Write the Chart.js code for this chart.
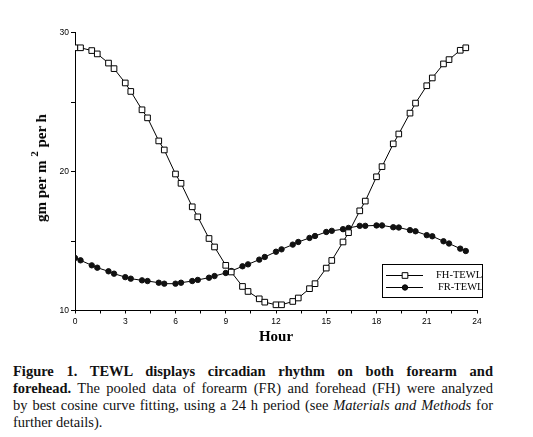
<!DOCTYPE html>
<html>
<head>
<meta charset="utf-8">
<script src="https://cdn.jsdelivr.net/npm/chart.js@4/dist/chart.umd.min.js"></script>
<style>
body { margin: 0; background: #fff; width: 533px; height: 437px; overflow: hidden; position: relative; }
#chart { position: absolute; left: 0; top: 0; }
#ytitle {
	position: absolute; left: 40px; top: 168px;
	transform: translate(-50%, -50%) rotate(-90deg);
	font: bold 15px "Liberation Serif", serif; white-space: nowrap; color: #000;
}
#ytitle sup { font-size: 11px; position: relative; top: -2px; }
#caption {
	position: absolute; left: 13px; top: 363px; width: 480px;
	font: 14.5px/17px "Liberation Serif", serif; color: #111;
}
#caption span.l { display: block; white-space: nowrap; text-align: justify; text-align-last: justify; }
#caption span.last { display: block; white-space: nowrap; }
</style>
</head>
<body>
<canvas id="chart" width="533" height="350"></canvas>
<div id="ytitle">gm per m <sup>2</sup> per h</div>
<div id="caption">
	<span class="l"><b>Figure 1. TEWL displays circadian rhythm on both forearm and</b></span>
	<span class="l"><b>forehead.</b> The pooled data of forearm (FR) and forehead (FH) were analyzed</span>
	<span class="l">by best cosine curve fitting, using a 24 h period (see <i>Materials and Methods</i> for</span>
	<span class="last">further details).</span>
</div>
<script>
// hours of each reading (two per hour)
const hours = [0, 0.33, 1, 1.33, 2, 2.33, 3, 3.33, 4, 4.33, 5, 5.33,
	6, 6.33, 7, 7.33, 8, 8.33, 9, 9.33, 10, 10.33, 11, 11.33,
	12, 12.33, 13, 13.33, 14, 14.33, 15, 15.33, 16, 16.33, 17, 17.33,
	18, 18.33, 19, 19.33, 20, 20.33, 21, 21.33, 22, 22.33, 23, 23.33];

// forehead TEWL
const fhTewl = [28.9, 28.9, 28.7, 28.46, 27.8, 27.4, 26.37, 25.76, 24.44, 23.86, 22.2, 21.55,
	19.82, 19.15, 17.46, 16.74, 15.18, 14.57, 13.25, 12.77, 11.73, 11.37, 10.84, 10.6,
	10.41, 10.41, 10.65, 10.9, 11.57, 11.93, 13.05, 13.6, 14.93, 15.6, 17.17, 17.87,
	19.62, 20.35, 21.99, 22.7, 24.2, 24.92, 26.17, 26.73, 27.74, 28.05, 28.72, 28.9];

// forearm TEWL
const frTewl = [13.78, 13.61, 13.25, 13.08, 12.82, 12.65, 12.4, 12.29, 12.17, 12.12, 12.0, 11.93,
	11.93, 12.0, 12.12, 12.2, 12.36, 12.48, 12.7, 12.84, 13.18, 13.32, 13.66, 13.85,
	14.23, 14.4, 14.74, 14.93, 15.22, 15.36, 15.65, 15.73, 15.85, 15.94, 16.09, 16.09,
	16.12, 16.12, 15.99, 15.97, 15.78, 15.7, 15.42, 15.34, 14.98, 14.82, 14.45, 14.28];

const seriesNames = ['FH-TEWL', 'FR-TEWL'];
const xLabelTicks = [0, 3, 6, 9, 12, 15, 18, 21, 24];
const yLabelTicks = [10, 20, 30];

function toPoints(vals) {
	return hours.map((h, i) => ({ x: h, y: vals[i] }));
}

// boxed legend drawn inside the lower right of the plot
const boxLegend = {
	id: 'boxLegend',
	afterDraw(chart) {
		const c = chart.ctx;
		c.save();
		c.strokeStyle = '#000';
		c.lineWidth = 1;
		c.strokeRect(382.5, 264.5, 100, 33);
		chart.data.datasets.forEach((ds, i) => {
			const y = 275.5 + i * 12;
			c.beginPath();
			c.moveTo(386, y);
			c.lineTo(423, y);
			c.strokeStyle = '#000';
			c.lineWidth = 1;
			c.stroke();
			c.fillStyle = ds.pointBackgroundColor;
			c.beginPath();
			if (ds.pointStyle === 'rect') {
				const s = ds.pointRadius * Math.SQRT1_2;
				c.rect(405 - s, y - s, 2 * s, 2 * s);
			} else {
				c.arc(405, y, ds.pointRadius, 0, Math.PI * 2);
			}
			c.fill();
			c.stroke();
			c.fillStyle = '#000';
			c.font = '10.5px "Liberation Serif", serif';
			c.textBaseline = 'middle';
			c.fillText(ds.label, i === 0 ? 436 : 438, y);
		});
		c.restore();
	}
};

new Chart(document.getElementById('chart'), {
	type: 'line',
	data: {
		datasets: [{
			label: seriesNames[0],
			data: toPoints(fhTewl),
			borderColor: '#000',
			borderWidth: 1,
			pointStyle: 'rect',
			pointRadius: 4,
			pointBorderWidth: 1,
			pointBorderColor: '#000',
			pointBackgroundColor: '#fff',
			tension: 0
		}, {
			label: seriesNames[1],
			data: toPoints(frTewl),
			borderColor: '#000',
			borderWidth: 1,
			pointStyle: 'circle',
			pointRadius: 2.7,
			pointBorderWidth: 1,
			pointBorderColor: '#111',
			pointBackgroundColor: '#111',
			tension: 0
		}]
	},
	options: {
		responsive: false,
		animation: false,
		layout: { padding: { top: 32.5, right: 56, left: 0, bottom: 0 } },
		plugins: { legend: { display: false }, tooltip: { enabled: false } },
		scales: {
			x: {
				type: 'linear',
				min: 0,
				max: 24,
				afterFit(scale) { scale.height = 39.5; scale.paddingLeft = 0; scale.paddingRight = 0; },
				ticks: {
					stepSize: 1.5,
					autoSkip: false,
					maxRotation: 0,
					padding: 3,
					color: '#000',
					font: { family: '"Liberation Sans", Arial, sans-serif', size: 8.5 },
					callback: (v) => xLabelTicks.includes(v) ? String(v) : ''
				},
				grid: { drawOnChartArea: false, drawTicks: true, tickLength: 3, color: '#000' },
				border: { display: true, color: '#000', width: 1 },
				title: {
					display: true,
					text: 'Hour',
					color: '#000',
					font: { family: '"Liberation Serif", serif', size: 15, weight: 'bold' },
					padding: { top: 0, bottom: 4 }
				}
			},
			y: {
				min: 10,
				max: 30,
				afterFit(scale) { scale.width = 75; scale.paddingTop = 0; scale.paddingBottom = 0; },
				ticks: {
					stepSize: 5,
					autoSkip: false,
					padding: 2,
					color: '#000',
					font: { family: '"Liberation Sans", Arial, sans-serif', size: 8.5 },
					callback: (v) => yLabelTicks.includes(v) ? String(v) : ''
				},
				grid: { drawOnChartArea: false, drawTicks: true, tickLength: 4, color: '#000' },
				border: { display: true, color: '#000', width: 1 }
			}
		}
	},
	plugins: [boxLegend]
});
</script>
</body>
</html>
